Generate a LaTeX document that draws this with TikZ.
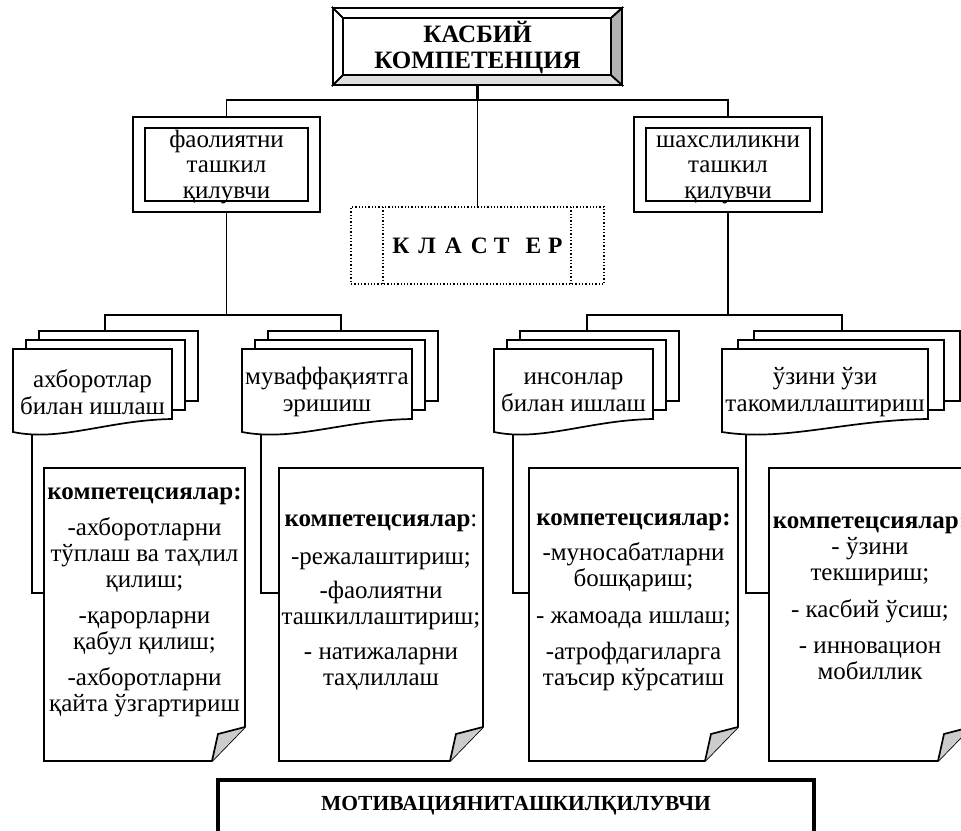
\documentclass[tikz,border=0pt]{standalone}
\usepackage{fontspec}
\setmainfont{Liberation Serif}
\usetikzlibrary{calc}
\newcommand\mdoc[3]{%
  \draw[ln] ({#1+2*#3},340) -- ({#1+2*#3},331) -- ({#2+2*#3},331) -- ({#2+2*#3},401) -- ({#2+#3},401);
  \draw[ln] ({#1+#3},349) -- ({#1+#3},340) -- ({#2+#3},340) -- ({#2+#3},410) -- (#2,410);
  \draw[ln, fill=white] (#1,349) -- (#2,349) -- (#2,419) .. controls ({#1+0.6*(#2-#1)},420) and ({#1+0.3*(#2-#1)},442) .. (#1,432) -- cycle;
}
\newcommand\kbox[2]{%
  \draw[ln, fill=white] (#1,468) -- (#2,468) -- (#2,727) -- ({#2-33},761) -- (#1,761) -- cycle;
  \fill[gray!40] ({#2-33},761) -- ({#2-27},734) -- (#2,727) -- cycle;
  \draw[ln] ({#2-33},761) -- ({#2-27},734) -- (#2,727);
}
\begin{document}
\begin{tikzpicture}[x=1pt,y=-1pt,line join=miter,
  ln/.style={line width=1.7pt},
  body/.style={font=\fontsize{25}{26}\selectfont, align=center, inner sep=0pt},
  orgbox/.style={draw, line width=1.7pt, inner sep=0pt},
]
\useasboundingbox (0,0) rectangle (961,830);
\clip (0,0) rectangle (961,830);

% ---------- title box (beveled)
\coordinate (tA) at (333,8); \coordinate (tB) at (622,8);
\coordinate (tC) at (622,85); \coordinate (tD) at (333,85);
\coordinate (ta) at (343,18); \coordinate (tb) at (611,18);
\coordinate (tc) at (611,75); \coordinate (td) at (343,75);
\filldraw[ln, fill=gray!25] (tD) -- (tC) -- (tc) -- (td) -- cycle;
\filldraw[ln, fill=gray!60] (tB) -- (tC) -- (tc) -- (tb) -- cycle;
\draw[ln] (tA) -- (tB) -- (tb) -- (ta) -- cycle;
\draw[ln] (tA) -- (ta) -- (td) -- (tD) -- cycle;
\node[draw=none, minimum width=289pt, minimum height=77pt, inner sep=0pt] (title) at (477.5,46.5) {};
\node[font=\bfseries\fontsize{25}{26}\selectfont, align=center, inner sep=0pt, anchor=base] (titletxt) at (477.5,68) {КАСБИЙ\\КОМПЕТЕНЦИЯ};

% ---------- organiser boxes
\node[orgbox, minimum width=187pt, minimum height=95pt] (org1) at (226.5,164.5) {};
\node[orgbox, minimum width=163pt, minimum height=73pt] (org1in) at (226.5,164.5) {};
\node[body, font=\fontsize{25}{25.5}\selectfont, anchor=base] (org1txt) at (226.5,198) {фаолиятни\\ташкил\\қилувчи};
\node[orgbox, minimum width=188pt, minimum height=95pt] (org2) at (728,164.5) {};
\node[orgbox, minimum width=164pt, minimum height=73pt] (org2in) at (728,164.5) {};
\node[body, font=\fontsize{25}{25.5}\selectfont, anchor=base] (org2txt) at (728,198) {шахслиликни\\ташкил\\қилувчи};

% ---------- cluster box
\node[draw, dotted, line width=1.3pt, minimum width=253pt, minimum height=77pt, inner sep=0pt] (cluster) at (477.5,245.5) {};
\draw[dotted, line width=1.3pt] (383,207) -- (383,284);
\draw[dotted, line width=1.3pt] (571,207) -- (571,284);
\node[font=\bfseries\fontsize{23.5}{26}\selectfont, inner sep=0pt, anchor=base] (clustertxt) at (477.5,253)
  {К\hspace{9pt}Л\hspace{9pt}А\hspace{9pt}С\hspace{6pt}Т\hspace{16pt}Е\hspace{7pt}Р};

% ---------- top connectors
\coordinate (tj) at (477.5,100);
\draw[line width=3pt] (title.south) -- (tj);
\draw[ln] (tj) -- (cluster.north);
\draw[ln] (org1.north) |- (tj) -| (org2.north);

% ---------- multi-document groups
\mdoc{13}{172}{13}
\mdoc{242}{412}{13}
\mdoc{494}{653}{13}
\mdoc{722}{928}{16}
\node[body, font=\fontsize{25}{27}\selectfont] (m1) at (92.5,392) {ахборотлар\\билан ишлаш};
\node[body, font=\fontsize{25}{27}\selectfont] (m2) at (327,392) {муваффақиятга\\эришиш};
\node[body, font=\fontsize{25}{27}\selectfont] (m3) at (573.5,392) {инсонлар\\билан ишлаш};
\node[body, font=\fontsize{25}{27}\selectfont] (m4) at (825,392) {ўзини ўзи\\такомиллаштириш};

\coordinate (g1) at (105,331); \coordinate (g2) at (341,331);
\coordinate (g3) at (587,331); \coordinate (g4) at (842,331);
\coordinate (j1) at (226.5,315); \coordinate (j2) at (728,315);
\draw[ln] (org1.south) -- (j1);
\draw[ln] (g1) -- (g1 |- j1) -- (g2 |- j1) -- (g2);
\draw[ln] (org2.south) -- (j2);
\draw[ln] (g3) -- (g3 |- j2) -- (g4 |- j2) -- (g4);

% ---------- competence boxes
\kbox{44}{245}
\kbox{279}{483}
\kbox{529}{738}
\kbox{769}{971}
\coordinate (f1) at (32,435);  \coordinate (k1) at (44,593);
\coordinate (f2) at (261,435); \coordinate (k2) at (279,593);
\coordinate (f3) at (513,435); \coordinate (k3) at (529,593);
\coordinate (f4) at (746,435); \coordinate (k4) at (769,593);
\draw[ln] (f1) |- (k1);
\draw[ln] (f2) |- (k2);
\draw[ln] (f3) |- (k3);
\draw[ln] (f4) |- (k4);

\node[body, anchor=base] (c1) at (144.5,711)
  {\textbf{компетецсиялар:}\\[10pt]-ахборотларни\\тўплаш ва таҳлил\\қилиш;\\[10pt]-қарорларни\\қабул қилиш;\\[10pt]-ахборотларни\\қайта ўзгартириш};
\node[body, anchor=base] (c2) at (381,685)
  {\textbf{компетецсиялар}:\\[12pt]-режалаштириш;\\[8pt]-фаолиятни\\ташкиллаштириш;\\[9pt]- натижаларни\\таҳлиллаш};
\node[body, anchor=base] (c3) at (633.5,685)
  {\textbf{компетецсиялар:}\\[9pt]-муносабатларни\\бошқариш;\\[11pt]- жамоада ишлаш;\\[10pt]-атрофдагиларга\\таъсир кўрсатиш};
\node[body, anchor=base] (c4) at (870,679)
  {\textbf{компетецсиялар:}\\- ўзини\\текшириш;\\[11pt]- касбий ўсиш;\\[10pt]- инновацион\\мобиллик};

% ---------- bottom box
\node[draw, line width=3.5pt, minimum width=596pt, minimum height=62pt, inner sep=0pt] (motiv) at (516,811) {};
\node[font=\bfseries\fontsize{21.5}{24}\selectfont, inner sep=0pt, anchor=base] (motivtxt) at (516,810) {МОТИВАЦИЯНИТАШКИЛҚИЛУВЧИ};
\end{tikzpicture}
\end{document}
